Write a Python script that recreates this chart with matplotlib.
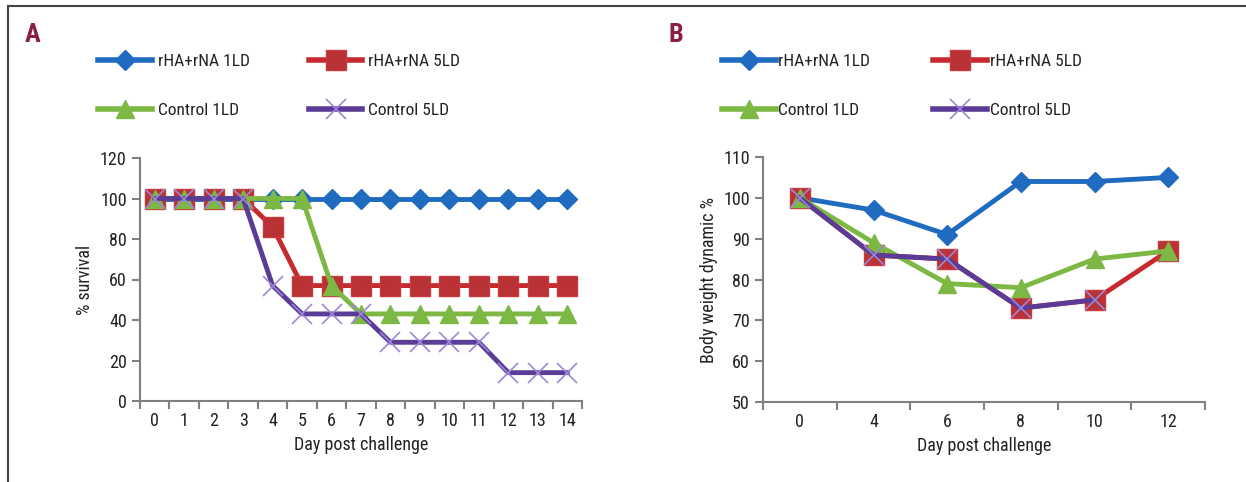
import numpy as np
import matplotlib
matplotlib.use("Agg")
import matplotlib.pyplot as plt
from matplotlib.lines import Line2D

plt.rcParams["font.family"] = ["Roboto Condensed", "Archivo Narrow", "Asap Condensed", "DejaVu Sans"]

# panel A: survival
days_a = list(range(15))
surv_vac1 = [100] * 15
surv_vac5 = [100, 100, 100, 100, 86, 57, 57, 57, 57, 57, 57, 57, 57, 57, 57]
surv_ctl1 = [100, 100, 100, 100, 100, 100, 57, 43, 43, 43, 43, 43, 43, 43, 43]
surv_ctl5 = [100, 100, 100, 100, 57, 43, 43, 43, 29, 29, 29, 29, 14, 14, 14]

# panel B: body weight
days_b = ["0", "4", "6", "8", "10", "12"]
bw_vac1 = [100, 97, 91, 104, 104, 105]
bw_vac5 = [100, 86, 85, 73, 75, 87]
bw_ctl1 = [100, 89, 79, 78, 85, 87]
bw_ctl5 = [100, 86, 85, 73, 75, np.nan]

labels = ["rHA+rNA 1LD", "rHA+rNA 5LD", "Control 1LD", "Control 5LD"]
BLUE, RED, GREEN, PURPLE = "#1f6bbf", "#c62a2f", "#7cb843", "#5a3b96"
AXC, INK, MAROON = "#808080", "#222222", "#8b1e46"

styles = [
    dict(color=BLUE, marker="D", ms=10, mfc=BLUE, mec=BLUE),
    dict(color=RED, marker="s", ms=14, mfc="#b83236", mec="#c9393d"),
    dict(color=GREEN, marker="^", ms=13, mfc=GREEN, mec=GREEN),
    dict(color=PURPLE, marker="x", ms=15, mec="#9d86d6", mew=1.2),
]

fig = plt.figure(figsize=(12.46, 4.82), dpi=100)
W, H = 1246, 482


def setup(ax, n, cats, ylim, yticks, ylabel):
    ax.set_xlim(-0.5, n - 0.5)
    ax.set_ylim(*ylim)
    ax.set_yticks(yticks)
    ax.set_xticks(np.arange(n + 1) - 0.5)
    ax.set_xticklabels([])
    ax.set_xticks(np.arange(n), minor=True)
    ax.set_xticklabels(cats, minor=True)
    ax.tick_params(axis="x", which="minor", length=0, pad=8)
    ax.tick_params(axis="both", which="major", length=6, width=1.5, color=AXC,
                   labelsize=13, labelcolor=INK)
    ax.tick_params(axis="x", which="minor", labelsize=13, labelcolor=INK)
    for s in ("top", "right"):
        ax.spines[s].set_visible(False)
    for s in ("left", "bottom"):
        ax.spines[s].set_color(AXC)
        ax.spines[s].set_linewidth(1.5)
    ax.set_xlabel("Day post challenge", fontsize=13, color=INK, labelpad=4)
    ax.set_ylabel(ylabel, fontsize=13, color=INK)


axA = fig.add_axes([140 / W, 1 - 401 / H, 442 / W, 243 / H])
for y, st in zip([surv_vac1, surv_vac5, surv_ctl1, surv_ctl5], styles):
    axA.plot(days_a, y, lw=3.5, clip_on=False, **st)
setup(axA, 15, [str(d) for d in days_a], (0, 120), range(0, 121, 20), "% survival")

axB = fig.add_axes([763 / W, 1 - 402 / H, 442 / W, 245 / H])
xb = np.arange(len(days_b))
for y, st in zip([bw_vac1, bw_vac5, bw_ctl1, bw_ctl5], styles):
    axB.plot(xb, y, lw=3.5, clip_on=False, **st)
setup(axB, 6, days_b, (50, 110), range(50, 111, 10), "Body weight dynamic %")

handles = [Line2D([], [], lw=4, **st) for st in styles]
order = [0, 2, 1, 3]
for x0, pad, colsp in ((89, 0.35, 3.4), (713, 0.15, 3.65)):
    fig.legend([handles[i] for i in order], [labels[i] for i in order],
               ncol=2, loc="upper left", bbox_to_anchor=(x0 / W, 1 - 45 / H),
               frameon=False, borderpad=0, fontsize=12.5, handlelength=3.1,
               handletextpad=pad, columnspacing=colsp, labelspacing=1.95,
               labelcolor=INK)

fig.text(25 / W, 1 - 35 / H, "A", fontsize=19, fontweight="bold", color=MAROON,
         va="center", ha="left")
fig.text(668 / W, 1 - 35 / H, "B", fontsize=19, fontweight="bold", color=MAROON,
         va="center", ha="left")

# outer frame (top and left only)
fig.add_artist(Line2D([7.5 / W, 7.5 / W], [0, 1 - 6 / H], transform=fig.transFigure,
                      color="#444444", lw=1.5))
fig.add_artist(Line2D([7.5 / W, 1], [1 - 6 / H, 1 - 6 / H], transform=fig.transFigure,
                      color="#444444", lw=1.5))

fig.savefig("out.png", dpi=100)
